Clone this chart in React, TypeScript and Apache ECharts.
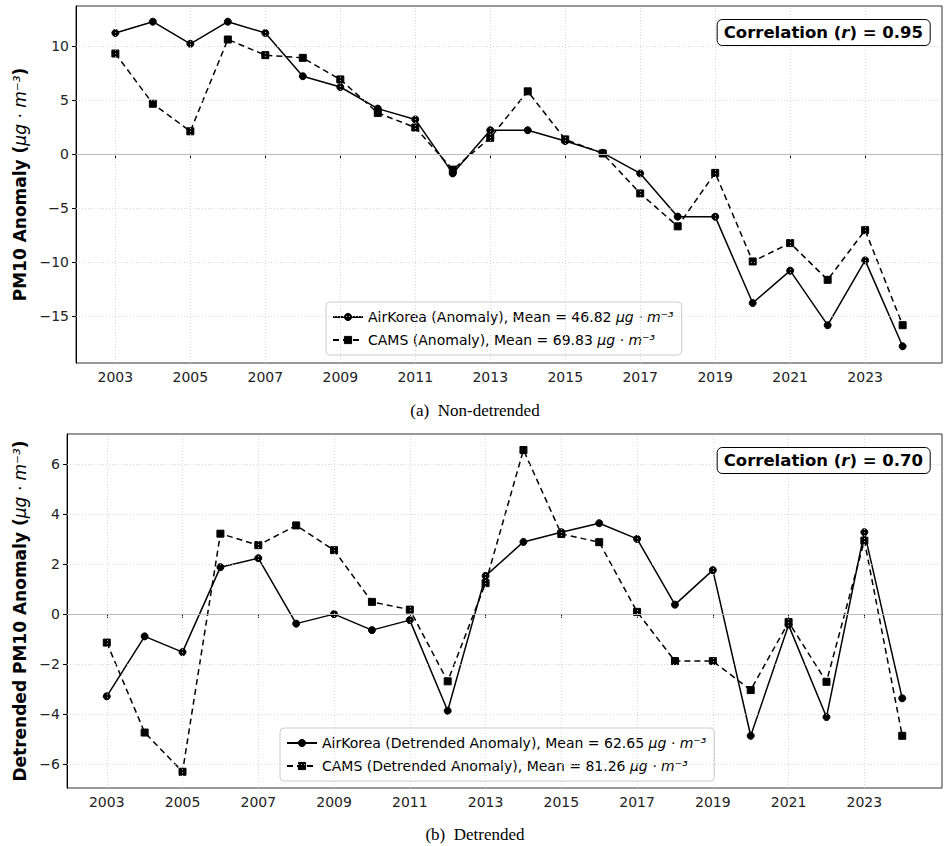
import React, { useEffect, useRef } from "react";
import * as echarts from "echarts";

const years = [2003, 2004, 2005, 2006, 2007, 2008, 2009, 2010, 2011, 2012, 2013, 2014, 2015, 2016, 2017, 2018, 2019, 2020, 2021, 2022, 2023, 2024];
const airkoreaAnomaly = [11.2, 12.25, 10.2, 12.25, 11.2, 7.2, 6.2, 4.2, 3.2, -1.8, 2.2, 2.2, 1.2, 0.1, -1.8, -5.8, -5.8, -13.8, -10.8, -15.85, -9.85, -17.8];
const camsAnomaly = [9.3, 4.65, 2.1, 10.6, 9.15, 8.9, 6.9, 3.8, 2.45, -1.45, 1.5, 5.8, 1.35, 0.05, -3.65, -6.7, -1.75, -9.95, -8.25, -11.65, -7.05, -15.85];
const airkoreaDetrended = [-3.3, -0.9, -1.53, 1.87, 2.23, -0.39, -0.01, -0.65, -0.25, -3.88, 1.52, 2.88, 3.27, 3.63, 3.0, 0.37, 1.75, -4.88, -0.45, -4.13, 3.27, -3.38];
const camsDetrended = [-1.15, -4.75, -6.32, 3.21, 2.75, 3.54, 2.55, 0.48, 0.17, -2.7, 1.23, 6.56, 3.2, 2.87, 0.08, -1.89, -1.89, -3.05, -0.33, -2.72, 2.93, -4.88];
const xTicks = [2003, 2005, 2007, 2009, 2011, 2013, 2015, 2017, 2019, 2021, 2023];
const yTicksTop = [-15, -10, -5, 0, 5, 10];
const yTicksBottom = [-6, -4, -2, 0, 2, 4, 6];
const legendText: Record<string, string> = {
  "AirKorea (Anomaly)": "{n|AirKorea (Anomaly), Mean = 46.82 }{i|μg · m⁻³}",
  "CAMS (Anomaly)": "{n|CAMS (Anomaly), Mean = 69.83 }{i|μg · m⁻³}",
  "AirKorea (Detrended Anomaly)": "{n|AirKorea (Detrended Anomaly), Mean = 62.65 }{i|μg · m⁻³}",
  "CAMS (Detrended Anomaly)": "{n|CAMS (Detrended Anomaly), Mean = 81.26 }{i|μg · m⁻³}",
};

const FONT = "DejaVu Sans";

function fmtNum(v: number) {
  return v < 0 ? "\u2212" + Math.abs(v) : String(v);
}

function xAxisCfg(gridIndex: number) {
  return {
    type: "value",
    gridIndex,
    min: 2001.95,
    max: 2025.05,
    axisLine: { show: true, lineStyle: { color: "#000", width: 1 } },
    axisTick: { show: true, customValues: xTicks, length: 4, lineStyle: { color: "#000" } },
    axisLabel: { customValues: xTicks, formatter: (v: number) => String(v), fontFamily: FONT, fontSize: 14, color: "#222", margin: 7 },
    splitLine: { show: false },
  };
}

function yAxisCfg(gridIndex: number, min: number, max: number, ticks: number[], name: string, nameGap: number) {
  return {
    type: "value",
    gridIndex,
    min,
    max,
    name,
    nameLocation: "middle",
    nameRotate: 90,
    nameGap,
    nameTextStyle: {
      rich: {
        b: { fontFamily: FONT, fontWeight: "bold", fontSize: 17, color: "#000" },
        i: { fontFamily: FONT, fontStyle: "italic", fontSize: 17, color: "#000" },
      },
    },
    axisLine: { show: true, lineStyle: { color: "#000", width: 1 } },
    axisTick: { show: true, customValues: ticks, length: 4, lineStyle: { color: "#000" } },
    axisLabel: { customValues: ticks, formatter: fmtNum, fontFamily: FONT, fontSize: 14, color: "#222", margin: 7 },
    splitLine: { show: false },
  };
}

function gridSeries(xIdx: number, yIdx: number, yTicks: number[]) {
  const grid = "#d0d0d0";
  const data: any[] = [];
  xTicks.forEach((x) => data.push({ xAxis: x, lineStyle: { color: grid, type: [1, 2], width: 0.8 } }));
  yTicks.forEach((y) => {
    if (y === 0) data.push({ yAxis: y, lineStyle: { color: "#bbbbbb", type: "solid", width: 1 } });
    else data.push({ yAxis: y, lineStyle: { color: grid, type: [1, 2], width: 0.8 } });
  });
  return {
    type: "line",
    name: "_grid",
    xAxisIndex: xIdx,
    yAxisIndex: yIdx,
    data: [],
    z: 1,
    silent: true,
    markLine: { silent: true, symbol: "none", label: { show: false }, data, animation: false },
  };
}

function lineSeries(name: string, vals: number[], idx: number, dashed: boolean) {
  return {
    type: "line",
    name,
    xAxisIndex: idx,
    yAxisIndex: idx,
    data: years.map((y, i) => [y, vals[i]]),
    symbol: dashed ? "rect" : "circle",
    symbolSize: 7,
    showSymbol: true,
    itemStyle: { color: "#000", borderColor: "#000", borderWidth: 1, borderType: "solid", opacity: 1 },
    lineStyle: { color: "#000", width: 1.5, type: dashed ? [6, 4] : "solid" },
    emphasis: { disabled: true },
    z: 3,
  };
}

function legendCfg(names: string[], left: number, top: number) {
  return {
    data: names,
    orient: "vertical",
    left,
    top,
    itemWidth: 30,
    itemHeight: 9,
    itemGap: 9,
    padding: [8, 8, 8, 6],
    borderColor: "#cccccc",
    borderWidth: 1,
    borderRadius: 4,
    backgroundColor: "rgba(255,255,255,0.85)",
    formatter: (n: string) => legendText[n] || n,
    itemStyle: { color: "#000", borderColor: "#000", borderWidth: 1, borderType: "solid" },
    textStyle: {
      rich: {
        n: { fontFamily: FONT, fontSize: 14, color: "#000" },
        i: { fontFamily: FONT, fontSize: 14, fontStyle: "italic", color: "#000" },
      },
    },
  };
}

function corrTitle(r: string, top: number) {
  return {
    text: `{b|Correlation (}{i|r}{b|) = ${r}}`,
    right: 20,
    top,
    padding: [5, 7, 5, 7],
    borderColor: "#000",
    borderWidth: 1,
    borderRadius: 5,
    backgroundColor: "#fff",
    textStyle: {
      rich: {
        b: { fontFamily: FONT, fontWeight: "bold", fontSize: 16.5, color: "#000" },
        i: { fontFamily: FONT, fontStyle: "italic", fontSize: 16.5, color: "#000" },
      },
    },
  };
}

export default function App() {
  const ref = useRef<HTMLDivElement>(null);
  useEffect(() => {
    if (!ref.current) return;
    const chart = echarts.init(ref.current, undefined, { renderer: "svg" });
    chart.setOption({
      animation: false,
      backgroundColor: "#fff",
      title: [
        corrTitle("0.95", 19),
        corrTitle("0.70", 447),
        { text: "(a)  Non-detrended", left: "center", top: 397, textStyle: { fontFamily: "Liberation Serif", fontWeight: "normal", fontSize: 17, color: "#000" } },
        { text: "(b)  Detrended", left: "center", top: 821, textStyle: { fontFamily: "Liberation Serif", fontWeight: "normal", fontSize: 17, color: "#000" } },
      ],
      grid: [
        { left: 76, top: 6, width: 866, height: 357, show: true, borderColor: "#333", borderWidth: 1, backgroundColor: "transparent" },
        { left: 67, top: 434, width: 875, height: 354, show: true, borderColor: "#333", borderWidth: 1, backgroundColor: "transparent" },
      ],
      xAxis: [xAxisCfg(0), xAxisCfg(1)],
      yAxis: [
        yAxisCfg(0, -19.35, 13.7, yTicksTop, "{b|PM10 Anomaly (}{i|μg · m⁻³}{b|)}", 45),
        yAxisCfg(1, -6.97, 7.2, yTicksBottom, "{b|Detrended PM10 Anomaly (}{i|μg · m⁻³}{b|)}", 36),
      ],
      legend: [
        legendCfg(["AirKorea (Anomaly)", "CAMS (Anomaly)"], 326, 302),
        legendCfg(["AirKorea (Detrended Anomaly)", "CAMS (Detrended Anomaly)"], 280, 728),
      ],
      series: [
        gridSeries(0, 0, yTicksTop),
        gridSeries(1, 1, yTicksBottom),
        lineSeries("AirKorea (Anomaly)", airkoreaAnomaly, 0, false),
        lineSeries("CAMS (Anomaly)", camsAnomaly, 0, true),
        lineSeries("AirKorea (Detrended Anomaly)", airkoreaDetrended, 1, false),
        lineSeries("CAMS (Detrended Anomaly)", camsDetrended, 1, true),
      ],
    });
    return () => chart.dispose();
  }, []);
  return <div ref={ref} style={{ position: "absolute", left: 0, top: 0, width: 950, height: 846 }} />;
}
